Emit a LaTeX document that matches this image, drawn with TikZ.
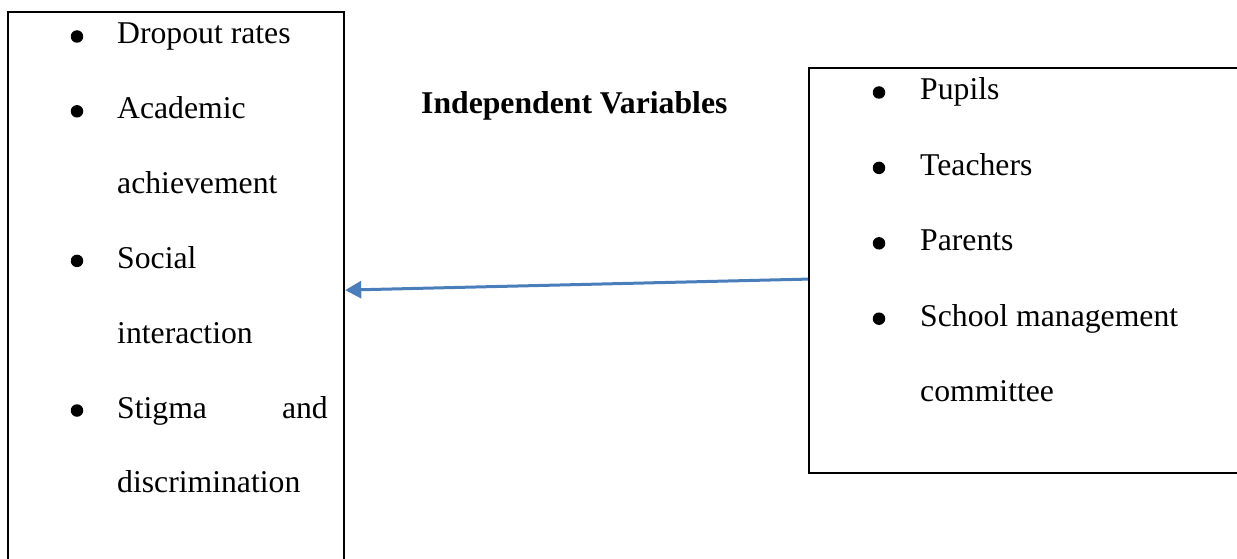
\documentclass[tikz,border=0pt]{standalone}
\usepackage{fontspec}
\setmainfont{Liberation Serif}
\usetikzlibrary{arrows.meta}
\definecolor{linkblue}{HTML}{4A7EBB}
\newcommand{\itemfont}{\fontsize{31.7pt}{38pt}\selectfont}
\tikzset{
  frame/.style={draw=black, line width=2.2pt, rectangle, inner sep=0pt, anchor=north west},
  entry/.style={anchor=base west, inner sep=0pt, font=\itemfont},
  dot/.style={circle, fill=black, draw=none, inner sep=0pt, minimum size=12.5pt},
  link/.style={draw=linkblue, line width=3pt, -{Triangle[length=16pt,width=17pt]}},
}
\begin{document}
\begin{tikzpicture}[x=1pt, y=-1pt]
\useasboundingbox (0,0) rectangle (1237,559);

% outcome box (runs past the lower edge)
\node[frame, minimum width=336pt, minimum height=600pt] (dep) at (7,11) {};
% input box (runs past the right edge)
\node[frame, minimum width=460pt, minimum height=405pt] (indep) at (808,67) {};

% left list
\node[dot] (l1) at (77,36.5) {};
\node[entry] (t1) at (117,44) {Dropout rates};
\node[dot] (l2) at (77,111.3) {};
\node[entry] (t2) at (117,118.8) {Academic};
\node[entry] (t3) at (117,193.6) {achievement};
\node[dot] (l3) at (77,260.9) {};
\node[entry] (t4) at (117,268.4) {Social};
\node[entry] (t5) at (117,343.2) {interaction};
\node[dot] (l4) at (77,410.5) {};
\node[entry] (t6) at (117,418) {Stigma};
\node[entry, anchor=base east] (t6b) at (328,418) {and};
\node[entry] (t7) at (117,492.8) {discrimination};

% heading
\node[entry, font=\itemfont\bfseries] (head) at (421,113.4) {Independent Variables};

% right list
\node[dot] (r1) at (879,92.5) {};
\node[entry] (s1) at (920,100) {Pupils};
\node[dot] (r2) at (879,167.9) {};
\node[entry] (s2) at (920,175.4) {Teachers};
\node[dot] (r3) at (879,243.3) {};
\node[entry] (s3) at (920,250.8) {Parents};
\node[dot] (r4) at (879,318.7) {};
\node[entry] (s4) at (920,326.2) {School management};
\node[entry] (s5) at (920,401.6) {committee};

% connector
\draw[link] ([yshift=-8.5pt]indep.west) -- ([yshift=22pt]dep.east);
\end{tikzpicture}
\end{document}
